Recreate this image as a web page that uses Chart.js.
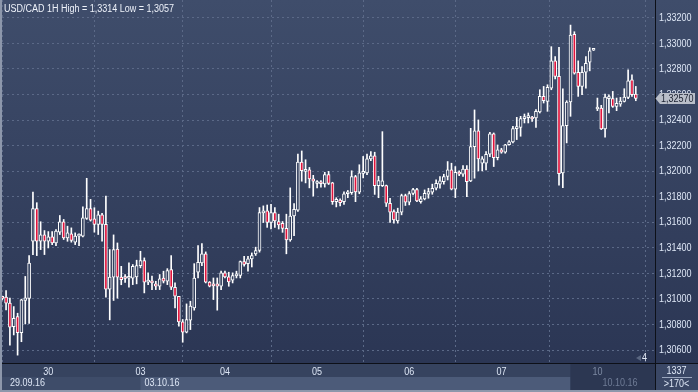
<!DOCTYPE html>
<html>
<head>
<meta charset="utf-8">
<script src="https://cdn.jsdelivr.net/npm/chart.js@4.4.0/dist/chart.umd.min.js"></script>
<style>
html,body{margin:0;padding:0;background:#2f3b58;}
#wrap{width:698px;height:392px;position:relative;}
</style>
</head>
<body>
<div id="wrap"><canvas id="c" width="698" height="392"></canvas></div>
<script>
// ---- data (USD/CAD, 1H candles, index 0 = 29.09.16 12:00) ----
const titleText = 'USD/CAD 1H High = 1,3314 Low = 1,3057';
const dayTickIdx = [12, 36, 58, 82, 106, 130, 155];
const dayLabels = ['30', '03', '04', '05', '06', '07', '10'];
const dateLabels = ['29.09.16', '03.10.16', '10.10.16'];
const yTickValues = [1.306, 1.308, 1.310, 1.312, 1.314, 1.316, 1.318, 1.320, 1.322, 1.324, 1.326, 1.328, 1.330, 1.332];
const footerTop = '1337';
const footerBottom = '>170<';
const cornerMark = '4';

const opens = [
1.31006,1.31014,1.30967,1.30783,1.30862,1.30736,1.30988,1.31003,1.31451,1.31706,
1.31451,1.31501,1.31451,1.31486,1.31438,1.31522,1.31604,1.31478,1.31509,1.31444,
1.31491,1.31491,1.31630,1.31706,1.31627,1.31583,1.31659,1.31583,1.31077,1.31171,
1.31391,1.31171,1.31165,1.31162,1.31162,1.31172,1.31261,1.31300,1.31131,1.31131,
1.31118,1.31099,1.31164,1.31138,1.31230,1.31091,1.31021,1.30820,1.30740,1.30834,
1.30930,1.31209,1.31282,1.31352,1.31131,1.31107,1.31118,1.31099,1.31204,1.31172,
1.31146,1.31180,1.31183,1.31292,1.31276,1.31313,1.31353,1.31379,1.31673,1.31689,
1.31598,1.31676,1.31606,1.31591,1.31552,1.31462,1.31650,1.31694,1.32071,1.31998,
1.32011,1.31939,1.31903,1.31905,1.31900,1.31973,1.31908,1.31761,1.31774,1.31761,
1.31823,1.31831,1.31957,1.31836,1.31983,1.31986,1.32096,1.32120,1.31887,1.31887,
1.31887,1.31749,1.31684,1.31611,1.31679,1.31809,1.31757,1.31825,1.31856,1.31762,
1.31783,1.31819,1.31835,1.31866,1.31898,1.31918,1.31958,1.32010,1.31859,1.31991,
1.31976,1.32017,1.31924,1.32192,1.32315,1.32062,1.32062,1.32132,1.32291,1.32106,
1.32166,1.32148,1.32208,1.32229,1.32333,1.32343,1.32411,1.32419,1.32421,1.32416,
1.32463,1.32585,1.32546,1.32650,1.32863,1.32741,1.31987,1.32356,1.32541,1.33070,
1.32774,1.32663,1.32774,1.32852,1.32946,1.32486,1.32494,1.32330,1.32567,1.32567,
1.32507,1.32525,1.32546,1.32577,1.32715,1.32603
];
const highs = [
1.31019,1.31066,1.31006,1.30940,1.30888,1.30998,1.31176,1.31339,1.31837,1.31753,
1.31604,1.31535,1.31527,1.31527,1.31543,1.31653,1.31622,1.31569,1.31556,1.31517,
1.31509,1.31721,1.31944,1.31779,1.31714,1.31687,1.31669,1.31805,1.31386,1.31501,
1.31438,1.31255,1.31190,1.31282,1.31269,1.31303,1.31373,1.31321,1.31204,1.31178,
1.31138,1.31191,1.31217,1.31237,1.31339,1.31125,1.31021,1.30839,1.30961,1.30982,
1.31276,1.31417,1.31433,1.31368,1.31136,1.31164,1.31164,1.31217,1.31217,1.31209,
1.31204,1.31217,1.31297,1.31334,1.31334,1.31360,1.31405,1.31715,1.31728,1.31735,
1.31740,1.31715,1.31663,1.31606,1.31663,1.31869,1.31746,1.32133,1.32158,1.32089,
1.32029,1.31967,1.31926,1.31926,1.31991,1.31998,1.31913,1.31792,1.31784,1.31838,
1.31849,1.32003,1.31967,1.32050,1.32115,1.32133,1.32153,1.32148,1.31960,1.32309,
1.31891,1.31788,1.31697,1.31710,1.31820,1.31820,1.31840,1.31866,1.31866,1.31801,
1.31853,1.31866,1.31898,1.31931,1.31958,1.31976,1.32075,1.32062,1.32036,1.32002,
1.32044,1.32044,1.32335,1.32479,1.32401,1.32114,1.32153,1.32304,1.32299,1.32205,
1.32179,1.32210,1.32239,1.32351,1.32421,1.32429,1.32447,1.32455,1.32429,1.32481,
1.32637,1.32663,1.32676,1.32974,1.32896,1.32969,1.32644,1.32551,1.33143,1.33091,
1.32863,1.32818,1.32896,1.32966,1.32953,1.32572,1.32515,1.32603,1.32598,1.32624,
1.32572,1.32577,1.32645,1.32793,1.32754,1.32663
];
const lows = [
1.30993,1.30914,1.30639,1.30718,1.30560,1.30665,1.30804,1.30809,1.31347,1.31339,
1.31386,1.31347,1.31399,1.31425,1.31417,1.31504,1.31465,1.31451,1.31444,1.31425,
1.31417,1.31486,1.31622,1.31609,1.31522,1.31504,1.31451,1.31014,1.30836,1.30988,
1.31006,1.31111,1.31130,1.31091,1.31112,1.31118,1.31243,1.31047,1.31112,1.31073,
1.31073,1.31073,1.31125,1.31112,1.31073,1.30930,1.30787,1.30661,1.30734,1.30760,
1.30912,1.31164,1.31261,1.31125,1.31094,1.30995,1.30912,1.31073,1.31164,1.31099,
1.31125,1.31164,1.31164,1.31256,1.31217,1.31250,1.31340,1.31366,1.31598,1.31560,
1.31547,1.31560,1.31547,1.31521,1.31353,1.31451,1.31495,1.31684,1.31921,1.31908,
1.31869,1.31805,1.31869,1.31875,1.31875,1.31895,1.31740,1.31720,1.31728,1.31740,
1.31792,1.31818,1.31761,1.31823,1.31947,1.31973,1.32081,1.31818,1.31792,1.31879,
1.31723,1.31598,1.31593,1.31593,1.31658,1.31731,1.31736,1.31814,1.31762,1.31749,
1.31775,1.31788,1.31819,1.31853,1.31866,1.31898,1.31931,1.31853,1.31793,1.31965,
1.31958,1.31801,1.31918,1.31945,1.32002,1.32002,1.32010,1.32114,1.32036,1.32088,
1.32140,1.32140,1.32203,1.32221,1.32247,1.32273,1.32377,1.32377,1.32390,1.32343,
1.32455,1.32533,1.32468,1.32637,1.32722,1.31891,1.31871,1.32221,1.32429,1.32759,
1.32585,1.32598,1.32650,1.32785,1.32944,1.32473,1.32325,1.32265,1.32455,1.32499,
1.32473,1.32507,1.32541,1.32567,1.32585,1.32551
];
const closes = [
1.31004,1.30967,1.30778,1.30849,1.30736,1.30993,1.31009,1.31281,1.31706,1.31451,
1.31501,1.31451,1.31486,1.31438,1.31530,1.31604,1.31478,1.31517,1.31457,1.31491,
1.31501,1.31635,1.31706,1.31617,1.31583,1.31659,1.31583,1.31077,1.31171,1.31386,
1.31171,1.31150,1.31160,1.31167,1.31256,1.31261,1.31300,1.31131,1.31146,1.31125,
1.31099,1.31157,1.31138,1.31222,1.31091,1.31021,1.30820,1.30740,1.30839,1.30943,
1.31164,1.31287,1.31352,1.31131,1.31099,1.31102,1.31099,1.31204,1.31172,1.31133,
1.31183,1.31185,1.31292,1.31269,1.31313,1.31339,1.31379,1.31676,1.31681,1.31598,
1.31676,1.31611,1.31580,1.31552,1.31462,1.31648,1.31702,1.32071,1.32004,1.32011,
1.31939,1.31921,1.31913,1.31901,1.31973,1.31903,1.31761,1.31779,1.31753,1.31823,
1.31836,1.31957,1.31838,1.31986,1.31993,1.32096,1.32120,1.31887,1.31926,1.31924,
1.31749,1.31679,1.31619,1.31679,1.31809,1.31757,1.31825,1.31856,1.31767,1.31783,
1.31827,1.31840,1.31866,1.31905,1.31924,1.31958,1.32010,1.31859,1.31991,1.31976,
1.32017,1.31918,1.32192,1.32315,1.32096,1.32096,1.32132,1.32291,1.32106,1.32166,
1.32148,1.32205,1.32229,1.32333,1.32346,1.32411,1.32421,1.32424,1.32408,1.32468,
1.32585,1.32551,1.32655,1.32863,1.32741,1.31980,1.32356,1.32541,1.33065,1.32767,
1.32663,1.32774,1.32844,1.32941,1.32951,1.32499,1.32330,1.32580,1.32580,1.32507,
1.32530,1.32548,1.32580,1.32707,1.32598,1.32570
];

// ---- styling ----
const FONT = "'Liberation Sans',Arial,sans-serif";
const FS = 10;        // font size
const SX = 0.9;       // horizontal condensing to mimic the narrow UI font
const RED = '#e0143c';
const HOLLOW = '#33405e';
const GRID = '#5b6987';
const AXIS = '#0d1018';
const TXT = '#dde6f5';

const wickData = closes.map((c, i) => ({x: i, y: [lows[i], highs[i]]}));
const bodyData = closes.map((c, i) => ({x: i, y: [opens[i], c]}));
const bodyColors = closes.map((c, i) => c < opens[i] ? RED : HOLLOW);

function fmt(v) { return v.toFixed(5).replace('.', ','); }

function text(ctx, s, x, y, color, align) {
  ctx.save();
  ctx.font = FS + 'px ' + FONT;
  ctx.fillStyle = color;
  ctx.textBaseline = 'middle';
  ctx.textAlign = align || 'left';
  ctx.translate(x, y);
  ctx.scale(SX, 1);
  ctx.fillText(s, 0, 0);
  ctx.restore();
}

const framePlugin = {
  id: 'frame',
  beforeDraw(chart) {
    const ctx = chart.ctx, a = chart.chartArea;
    const W = chart.width, H = chart.height;
    ctx.save();
    ctx.fillStyle = '#34415e';
    ctx.fillRect(0, 0, W, H);
    const g = ctx.createLinearGradient(0, 0, 0, a.bottom);
    g.addColorStop(0, '#3f4d6b');
    g.addColorStop(1, '#2b3654');
    ctx.fillStyle = g;
    ctx.fillRect(0, 0, W, a.bottom);
    ctx.fillStyle = '#36435f';
    ctx.fillRect(0, a.bottom, a.right, 14);
    ctx.fillStyle = '#3e4c69';
    ctx.fillRect(0, a.bottom + 14, a.right, H - a.bottom - 14);
    const x03 = chart.scales.x.getPixelForValue(dayTickIdx[1]);
    const xShade = chart.scales.x.getPixelForValue(dayTickIdx[6]) - 27;
    ctx.fillStyle = '#4c5b79';
    ctx.fillRect(x03, a.bottom + 14, xShade - x03, H - a.bottom - 16);
    ctx.fillStyle = '#2c3752';
    ctx.fillRect(xShade, a.bottom, a.right - xShade, H - a.bottom - 2);
    ctx.fillStyle = '#3a4765';
    ctx.fillRect(a.right, a.bottom, W - a.right, H - a.bottom);
    ctx.fillStyle = '#8d97ab';
    ctx.fillRect(0, 0, 2, H);
    ctx.fillRect(0, H - 2, W, 2);
    ctx.restore();
  },
  afterDraw(chart) {
    const ctx = chart.ctx, a = chart.chartArea;
    const W = chart.width, H = chart.height;
    const xs = chart.scales.x, ys = chart.scales.y;
    ctx.save();
    // solid axis lines
    ctx.fillStyle = AXIS;
    ctx.fillRect(Math.round(a.right), 0, 1, H - 2);
    ctx.fillRect(2, Math.round(a.bottom), W - 2, 1);
    ctx.restore();
    // title
    text(ctx, titleText, 4, 9, '#eef2fa');
    // y tick labels
    yTickValues.forEach(v => text(ctx, fmt(v), a.right + 4, ys.getPixelForValue(v) + 0.5, TXT));
    // day labels
    dayTickIdx.forEach((d, i) => text(ctx, dayLabels[i], xs.getPixelForValue(d), a.bottom + 9,
      i === dayTickIdx.length - 1 ? '#7d8aa3' : TXT, 'center'));
    // date row
    const x03 = xs.getPixelForValue(dayTickIdx[1]);
    const x10 = xs.getPixelForValue(dayTickIdx[6]);
    text(ctx, dateLabels[0], 10, a.bottom + 20.5, TXT);
    text(ctx, dateLabels[1], x03 + 4, a.bottom + 20.5, TXT);
    text(ctx, dateLabels[2], x10 + 5, a.bottom + 20.5, '#6f7c96');
    // corner box
    text(ctx, footerTop, (a.right + W) / 2, a.bottom + 8.5, TXT, 'center');
    text(ctx, footerBottom, (a.right + W) / 2, a.bottom + 21, TXT, 'center');
    ctx.save();
    ctx.fillStyle = '#9aa6bd';
    ctx.fillRect(a.right + 7, a.bottom + 14, W - a.right - 13, 1);
    // corner mark
    ctx.fillStyle = '#5a6781';
    ctx.beginPath();
    ctx.moveTo(a.right - 19, a.bottom - 5);
    ctx.lineTo(a.right - 14, a.bottom - 8);
    ctx.lineTo(a.right - 14, a.bottom - 2);
    ctx.closePath();
    ctx.fill();
    ctx.restore();
    text(ctx, cornerMark, a.right - 13, a.bottom - 4.5, '#e6ecf7');
    // current price tag
    const last = closes[closes.length - 1];
    const y = Math.round(ys.getPixelForValue(last)) + 0.5;
    ctx.save();
    ctx.fillStyle = '#b9bec9';
    ctx.beginPath();
    ctx.moveTo(a.right + 0.5, y);
    ctx.lineTo(a.right + 5, y - 5.5);
    ctx.lineTo(W - 3, y - 5.5);
    ctx.lineTo(W - 3, y + 5.5);
    ctx.lineTo(a.right + 5, y + 5.5);
    ctx.closePath();
    ctx.fill();
    ctx.restore();
    text(ctx, fmt(last), a.right + 6, y + 0.5, '#1a2030');
  }
};

new Chart(document.getElementById('c'), {
  type: 'bar',
  data: {
    datasets: [
      {
        label: 'body',
        data: bodyData,
        backgroundColor: bodyColors,
        borderColor: '#ffffff',
        borderWidth: 1,
        borderSkipped: false,
        barThickness: 3,
        minBarLength: 2,
        grouped: false,
        order: 0
      },
      {
        label: 'wick',
        data: wickData,
        backgroundColor: '#ffffff',
        borderWidth: 0,
        barThickness: 1,
        grouped: false,
        order: 1
      }
    ]
  },
  options: {
    responsive: false,
    animation: false,
    devicePixelRatio: 1,
    layout: {padding: {left: 2, top: 0, right: 0, bottom: 0}},
    plugins: {legend: {display: false}, tooltip: {enabled: false}},
    scales: {
      x: {
        type: 'linear',
        min: -0.06,
        max: 170.0,
        offset: false,
        afterFit(s) { s.height = 29; },
        afterBuildTicks(s) { s.ticks = dayTickIdx.map(v => ({value: v})); },
        grid: {color: GRID, drawTicks: false, lineWidth: 1},
        border: {display: false, dash: [2, 3]},
        ticks: {display: false, autoSkip: false}
      },
      y: {
        position: 'right',
        min: 1.304985,
        max: 1.333393,
        afterFit(s) { s.width = 43; },
        afterBuildTicks(s) { s.ticks = yTickValues.map(v => ({value: v})); },
        grid: {color: GRID, drawTicks: false, lineWidth: 1},
        border: {display: false, dash: [2, 3]},
        ticks: {display: false}
      }
    }
  },
  plugins: [framePlugin]
});
</script>
</body>
</html>
